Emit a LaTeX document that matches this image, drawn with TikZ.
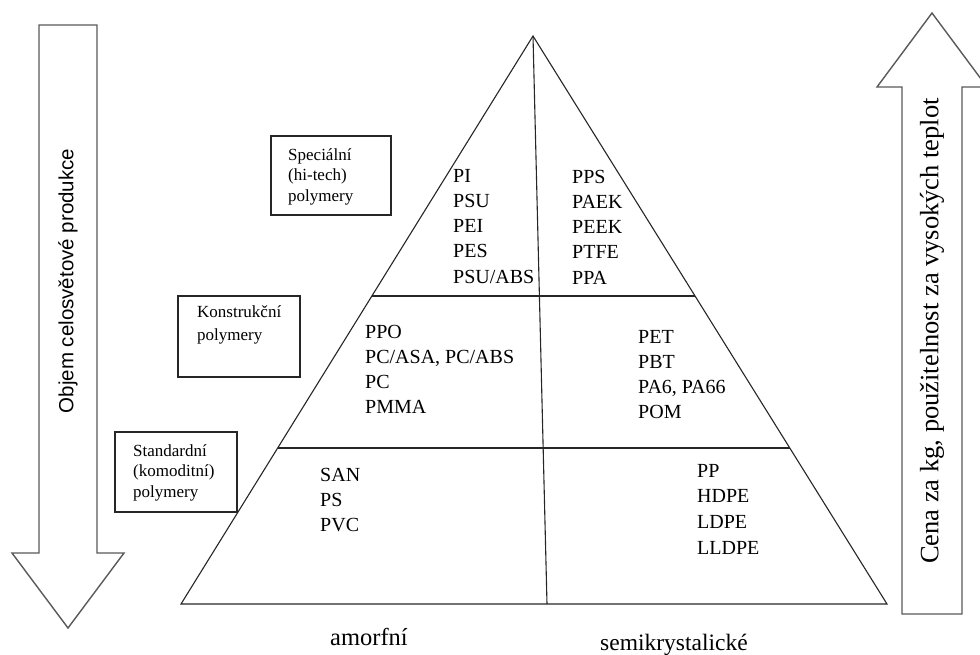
\documentclass[tikz,border=0pt]{standalone}
\usepackage{fontspec}
\setmainfont{Liberation Serif}
\newfontfamily\arialf{Liberation Sans}
\usetikzlibrary{calc}
\newcommand{\blk}[1]{\begin{tabular}[t]{@{}l@{}}#1\end{tabular}}
\tikzset{
  edge/.style={draw=black!85, line width=1.1pt},
  bigarrow/.style={draw=black!65, line width=1.4pt, fill=white, line join=miter},
  catbox/.style={draw=black!85, line width=1.1pt, minimum width=#1, inner sep=0pt},
  lbl/.style={anchor=base west, inner sep=0pt, font=\fontsize{20}{25.3}\selectfont},
  boxlbl/.style={anchor=base west, inner sep=0pt, font=\fontsize{17}{20.5}\selectfont},
  axlbl/.style={anchor=base west, inner sep=0pt, font=\fontsize{24.5}{28}\selectfont}
}
\begin{document}
\begin{tikzpicture}[x=1pt, y=-1pt]
\useasboundingbox (0,0) rectangle (980,654);
% left arrow
\draw[bigarrow] (39,25) -- (97,25) -- (97,553) -- (124,553) -- (68,628) -- (12,553) -- (39,553) -- cycle;
\node[rotate=90, inner sep=0pt, font=\arialf\fontsize{20.5}{24}\selectfont] (vol) at (68,281) {Objem celosvětové produkce};
% right arrow
\draw[bigarrow] (902,614) -- (962,614) -- (962,87) -- (987,87) -- (932,13) -- (877,87) -- (902,87) -- cycle;
\node[rotate=90, inner sep=0pt, font=\fontsize{26.5}{31}\selectfont] (price) at (932,331) {Cena za kg, použitelnost za vysokých teplot};
% triangle
\coordinate (A) at (533,36);
\coordinate (BL) at (181,604);
\coordinate (BR) at (887,604);
\coordinate (D) at (547,604);
\coordinate (L1l) at ($(A)!0.4577!(BL)$);
\coordinate (L1r) at ($(A)!0.4577!(BR)$);
\coordinate (L2l) at ($(A)!0.7254!(BL)$);
\coordinate (L2r) at ($(A)!0.7254!(BR)$);
\draw[edge] (A) -- (BL) -- (BR) -- cycle;
\draw[edge] (A) -- (D);
\draw[edge] (L1l) -- (L1r);
\draw[edge] (L2l) -- (L2r);
% category boxes
\node[catbox=120pt, minimum height=79pt] (spec) at (331,175.5) {};
\node[catbox=122pt, minimum height=81pt] (kons) at (239,336.5) {};
\node[catbox=122pt, minimum height=80pt] (std) at (176,472) {};
\node[boxlbl] (spect) at (288,160) {\blk{Speciální\\(hi-tech)\\polymery}};
\node[boxlbl, font=\fontsize{17}{23}\selectfont] (konst) at (197,317) {\blk{Konstrukční\\polymery}};
\node[boxlbl] (stdt) at (133,456) {\blk{Standardní\\(komoditní)\\polymery}};
% polymer lists
\node[lbl] (ul) at (453,182) {\blk{PI\\PSU\\PEI\\PES\\PSU/ABS}};
\node[lbl] (ur) at (572,183) {\blk{PPS\\PAEK\\PEEK\\PTFE\\PPA}};
\node[lbl] (ml) at (365,338) {\blk{PPO\\PC/ASA, PC/ABS\\PC\\PMMA}};
\node[lbl] (mr) at (638,343) {\blk{PET\\PBT\\PA6, PA66\\POM}};
\node[lbl] (ll) at (320,481) {\blk{SAN\\PS\\PVC}};
\node[lbl, font=\fontsize{20}{25.8}\selectfont] (lr) at (697,477) {\blk{PP\\HDPE\\LDPE\\LLDPE}};
% bottom labels
\node[axlbl] (amo) at (330,645) {amorfní};
\node[axlbl, font=\fontsize{23.5}{28}\selectfont] (semi) at (600,650) {semikrystalické};
\end{tikzpicture}
\end{document}
